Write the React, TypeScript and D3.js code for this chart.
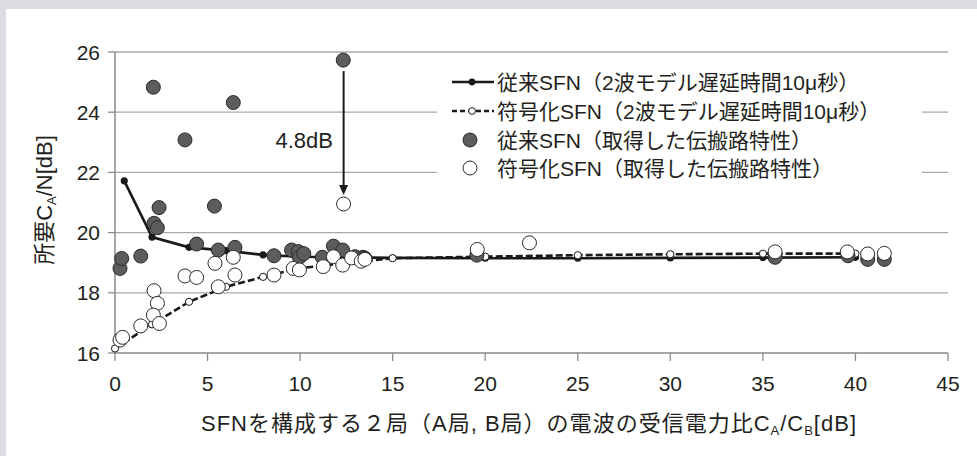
import React from "react";
import * as d3 from "d3";

// ---- data ----
const xTicks = [0, 5, 10, 15, 20, 25, 30, 35, 40, 45];
const yTicks = [16, 18, 20, 22, 24, 26];

// conventional SFN model (2-wave, 10us)
const convModelX = [0.5, 2, 4, 6, 8, 10, 15, 20, 25, 30, 35, 40];
const convModelY = [21.72, 19.85, 19.51, 19.4, 19.26, 19.2, 19.16, 19.15, 19.15, 19.16, 19.17, 19.18];

// coded SFN model (2-wave, 10us)
const codedModelX = [0, 2, 4, 6, 8, 10, 15, 20, 25, 30, 35, 40];
const codedModelY = [16.15, 16.95, 17.7, 18.2, 18.53, 18.82, 19.15, 19.2, 19.25, 19.28, 19.3, 19.3];

// conventional SFN measured
const convMeasX = [12.33, 2.07, 6.39, 3.78, 2.38, 5.37, 2.11, 2.29, 0.27, 0.36, 1.39, 4.41, 5.58, 6.48, 8.59, 9.54, 9.9, 9.96, 10.2, 11.2, 11.8, 12.3, 12.97, 13.4, 13.5, 19.55, 35.66, 39.6, 40.66, 41.56];
const convMeasY = [25.73, 24.83, 24.32, 23.08, 20.83, 20.88, 20.31, 20.16, 18.81, 19.14, 19.22, 19.62, 19.42, 19.51, 19.23, 19.42, 19.37, 19.18, 19.3, 19.18, 19.55, 19.42, 19.2, 19.18, 19.15, 19.25, 19.18, 19.23, 19.11, 19.11];

// coded SFN measured
const codedMeasX = [12.35, 0.27, 0.41, 1.39, 2.11, 2.29, 2.07, 2.4, 3.78, 4.41, 5.4, 6.39, 6.48, 5.58, 8.59, 9.63, 9.96, 11.25, 11.8, 12.3, 12.78, 13.3, 13.5, 19.57, 22.39, 35.66, 39.56, 40.66, 41.56];
const codedMeasY = [20.95, 16.43, 16.52, 16.9, 18.07, 17.65, 17.26, 16.98, 18.56, 18.51, 18.98, 19.18, 18.59, 18.2, 18.59, 18.81, 18.76, 18.87, 19.2, 18.92, 19.16, 19.05, 19.11, 19.44, 19.66, 19.36, 19.36, 19.29, 19.31];

const legendLabels = [
  "従来SFN（2波モデル遅延時間10μ秒）",
  "符号化SFN（2波モデル遅延時間10μ秒）",
  "従来SFN（取得した伝搬路特性）",
  "符号化SFN（取得した伝搬路特性）",
];
const annotationText = "4.8dB";

const FONT = "'Liberation Sans', Arial, 'Noto Sans CJK JP', sans-serif";
const TEXT = "#231f20";

export default function App() {
  const W = 977, H = 456;
  const x = d3.scaleLinear().domain([0, 45]).range([115, 948]);
  const y = d3.scaleLinear().domain([16, 26]).range([353, 52]);
  const line = d3.line<[number, number]>().x((d) => x(d[0])).y((d) => y(d[1]));
  const conv = convModelX.map((v, i) => [v, convModelY[i]] as [number, number]);
  const coded = codedModelX.map((v, i) => [v, codedModelY[i]] as [number, number]);
  const R = 7;

  const ax = x(codedMeasX[0]);
  const ay1 = y(convMeasY[0]) + R + 4;
  const ay2 = y(codedMeasY[0]) - R - 2;

  const lx = 452, lx2 = 494, ltx = 497;
  const rows = [82, 111, 140, 168];

  return (
    <svg width={W} height={H} style={{ position: "absolute", left: 0, top: 0 }} fontFamily={FONT}>
      <rect x={0} y={0} width={W} height={H} fill="#dcdde0" />
      <rect x={6} y={9} width={W - 6} height={H - 9} fill="#ffffff" />
      {/* grid */}
      {yTicks.filter((t) => t > 16).map((t) => (
        <line key={t} x1={x(0)} x2={x(45)} y1={y(t)} y2={y(t)} stroke="#a8a8a8" strokeWidth={1.3} />
      ))}
      {/* axes */}
      <line x1={x(0)} x2={x(0)} y1={y(16)} y2={y(26)} stroke="#8a8a8a" strokeWidth={1.5} />
      <line x1={x(0)} x2={x(45)} y1={y(16)} y2={y(16)} stroke="#8a8a8a" strokeWidth={1.5} />
      {yTicks.map((t) => (
        <g key={t}>
          <line x1={x(0) - 7} x2={x(0)} y1={y(t)} y2={y(t)} stroke="#8a8a8a" strokeWidth={1.3} />
          <text x={100} y={y(t)} dy="0.36em" textAnchor="end" fontSize={21} fill={TEXT}>{t}</text>
        </g>
      ))}
      {xTicks.map((t) => (
        <g key={t}>
          <line x1={x(t)} x2={x(t)} y1={y(16)} y2={y(16) + 8} stroke="#8a8a8a" strokeWidth={1.3} />
          <text x={x(t)} y={391} textAnchor="middle" fontSize={21} fill={TEXT}>{t}</text>
        </g>
      ))}
      {/* axis titles */}
      <text x={201} y={431} fontSize={22} fill={TEXT} textLength={655} lengthAdjust="spacing">
        SFNを構成する２局（A局, B局）の電波の受信電力比C<tspan fontSize={13} dy={4}>A</tspan><tspan dy={-4}>/C</tspan><tspan fontSize={13} dy={4}>B</tspan><tspan dy={-4}>[dB]</tspan>
      </text>
      <text transform={`translate(52,200) rotate(-90)`} textAnchor="middle" fontSize={22} fill={TEXT}>
        所要C<tspan fontSize={13} dy={4}>A</tspan><tspan dy={-4}>/N[dB]</tspan>
      </text>
      {/* legend background */}
      <rect x={437} y={64} width={485} height={120} fill="#ffffff" />
      {/* model lines */}
      <path d={line(conv) || ""} fill="none" stroke="#1a1a1a" strokeWidth={2.6} />
      <path d={line(coded) || ""} fill="none" stroke="#1a1a1a" strokeWidth={2.6} strokeDasharray="7,3" />
      {conv.map((d, i) => (
        <circle key={"cm" + i} cx={x(d[0])} cy={y(d[1])} r={3.6} fill="#1a1a1a" />
      ))}
      {coded.map((d, i) => (
        <circle key={"dm" + i} cx={x(d[0])} cy={y(d[1])} r={3.6} fill="#fff" stroke="#1a1a1a" strokeWidth={1} />
      ))}
      {/* measured */}
      {convMeasX.map((v, i) => (
        <circle key={"c" + i} cx={x(v)} cy={y(convMeasY[i])} r={R} fill="#5c5c5c" stroke="#2a2a2a" strokeWidth={1} />
      ))}
      {codedMeasX.map((v, i) => (
        <circle key={"o" + i} cx={x(v)} cy={y(codedMeasY[i])} r={R} fill="#fff" stroke="#2a2a2a" strokeWidth={1} />
      ))}
      {/* annotation */}
      <line x1={ax} x2={ax} y1={ay1} y2={ay2 - 8} stroke="#1a1a1a" strokeWidth={2} />
      <path d={`M${ax - 4.5},${ay2 - 10}L${ax + 4.5},${ay2 - 10}L${ax},${ay2}Z`} fill="#1a1a1a" />
      <text x={333} y={140} dy="0.36em" textAnchor="end" fontSize={22} fill={TEXT}>{annotationText}</text>
      {/* legend */}
      <line x1={lx} x2={lx2} y1={rows[0]} y2={rows[0]} stroke="#1a1a1a" strokeWidth={2.4} />
      <circle cx={472} cy={rows[0]} r={3.4} fill="#1a1a1a" />
      <line x1={lx} x2={lx2} y1={rows[1]} y2={rows[1]} stroke="#1a1a1a" strokeWidth={2.4} strokeDasharray="5,3" />
      <circle cx={472} cy={rows[1]} r={3.4} fill="#fff" stroke="#1a1a1a" strokeWidth={1} />
      <circle cx={470} cy={rows[2]} r={R} fill="#5c5c5c" stroke="#2a2a2a" strokeWidth={1} />
      <circle cx={470} cy={rows[3]} r={R} fill="#fff" stroke="#2a2a2a" strokeWidth={1} />
      {legendLabels.map((t, i) => (
        <text key={i} x={ltx} y={rows[i]} dy="0.36em" fontSize={21} fill={TEXT}>{t}</text>
      ))}
    </svg>
  );
}
